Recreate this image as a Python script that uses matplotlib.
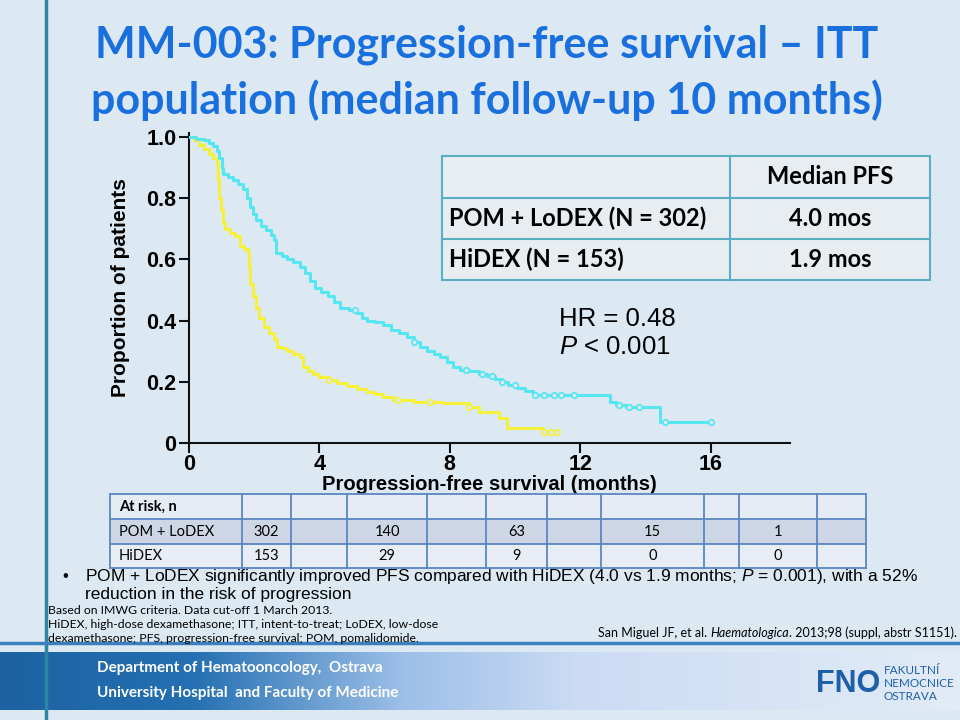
import numpy as np
import matplotlib
matplotlib.use('Agg')
import matplotlib.pyplot as plt
from matplotlib.colors import LinearSegmentedColormap
from matplotlib.patches import Rectangle

# Kaplan-Meier curves (step, post)
pom_t = [0, 0.2, 0.45, 0.6, 0.75, 0.85, 0.92, 1.0, 1.05, 1.2, 1.35, 1.5, 1.65, 1.77, 1.87, 1.95,
         2.05, 2.2, 2.35, 2.5, 2.6, 2.68, 2.85, 3.0, 3.2, 3.4, 3.55, 3.7, 3.85, 4.05, 4.25, 4.45,
         4.63, 4.9, 5.15, 5.3, 5.45, 5.7, 5.95, 6.2, 6.45, 6.7, 6.9, 7.1, 7.3, 7.5, 7.7, 7.9, 8.1,
         8.3, 8.6, 8.9, 9.15, 9.4, 9.6, 9.8, 10.05, 10.3, 10.55, 12.9, 13.1, 13.4, 14.45, 16.0]
pom_s = [1.0, 0.995, 0.99, 0.98, 0.97, 0.955, 0.93, 0.90, 0.88, 0.87, 0.86, 0.845, 0.83, 0.80,
         0.77, 0.75, 0.73, 0.71, 0.695, 0.68, 0.665, 0.62, 0.61, 0.60, 0.59, 0.575, 0.555, 0.53,
         0.505, 0.495, 0.48, 0.46, 0.44, 0.435, 0.425, 0.41, 0.40, 0.395, 0.385, 0.37, 0.36,
         0.345, 0.33, 0.315, 0.30, 0.29, 0.28, 0.265, 0.25, 0.24, 0.235, 0.225, 0.22, 0.21, 0.20,
         0.19, 0.18, 0.17, 0.157, 0.135, 0.125, 0.118, 0.07, 0.07]
pom_cens = [5.1, 6.9, 8.5, 9.0, 9.3, 9.6, 10.0, 10.6, 10.9, 11.2, 11.4, 11.8, 13.2, 13.5, 13.8, 14.6, 16.0]

hidex_t = [0, 0.15, 0.3, 0.45, 0.6, 0.75, 0.85, 0.9, 0.93, 0.97, 1.05, 1.1, 1.25, 1.4, 1.55, 1.7,
           1.8, 1.84, 1.87, 1.95, 2.05, 2.15, 2.3, 2.45, 2.6, 2.7, 2.85, 3.0, 3.2, 3.4, 3.5, 3.65,
           3.8, 4.0, 4.3, 4.55, 4.85, 5.15, 5.45, 5.7, 5.95, 6.25, 6.9, 7.8, 8.6, 8.9, 9.5, 9.75,
           10.85, 11.3]
hidex_s = [1.0, 0.99, 0.975, 0.96, 0.945, 0.93, 0.915, 0.86, 0.80, 0.76, 0.72, 0.70, 0.685, 0.675,
           0.645, 0.635, 0.625, 0.58, 0.52, 0.48, 0.44, 0.41, 0.38, 0.36, 0.34, 0.315, 0.31, 0.30,
           0.29, 0.28, 0.25, 0.235, 0.225, 0.215, 0.205, 0.195, 0.185, 0.178, 0.168, 0.16, 0.15,
           0.14, 0.135, 0.13, 0.118, 0.10, 0.082, 0.048, 0.035, 0.035]
hidex_cens = [4.3, 6.4, 7.4, 8.6, 10.9, 11.1, 11.3]

x_ticks = [0, 4, 8, 12, 16]
y_ticks = [0, 0.2, 0.4, 0.6, 0.8, 1.0]
y_labels = ['0', '0.2', '0.4', '0.6', '0.8', '1.0']

groups = ['POM + LoDEX (N = 302)', 'HiDEX (N = 153)']
median_pfs = ['4.0 mos', '1.9 mos']

risk_groups = ['POM + LoDEX', 'HiDEX']
risk_pom = [302, 140, 63, 15, 1]
risk_hidex = [153, 29, 9, 0, 0]

ARIAL = 'Liberation Sans'
CALIBRI = 'Lato'
BG = '#dce9f3'
CYAN = '#55e6ef'
YELLOW = '#f5f03a'

plt.rcParams['mathtext.fontset'] = 'custom'
plt.rcParams['mathtext.rm'] = ARIAL
plt.rcParams['mathtext.it'] = ARIAL + ':italic'

fig = plt.figure(figsize=(9.6, 7.2), dpi=100)
fig.patch.set_facecolor(BG)

# background layer in pixel coordinates
bg = fig.add_axes([0, 0, 1, 1], zorder=0)
bg.set_xlim(0, 960)
bg.set_ylim(720, 0)
bg.axis('off')
band_cmap = LinearSegmentedColormap.from_list(
    'band', [(0, '#1c62a2'), (0.2, '#2470b2'), (0.42, '#9dbfe8'), (0.6, '#cbdbf4'), (1, '#e2ecf7')])
bg.imshow(np.linspace(0, 1, 256)[None, :], extent=[0, 960, 710, 652], aspect='auto', cmap=band_cmap)
bg.plot([46, 46], [0, 720], color='#2a86a4', lw=2.5)
bg.plot([0, 960], [643, 643], color='#3b7fbf', lw=2.5)

# survival plot
ax = fig.add_axes([189 / 960, (720 - 443) / 720, 601 / 960, 310 / 720], zorder=1)
ax.patch.set_alpha(0)
ax.set_xlim(0, 601 / 32.6)
ax.set_ylim(0, 310 / 306)
for side in ['top', 'right']:
    ax.spines[side].set_visible(False)
for side in ['left', 'bottom']:
    ax.spines[side].set_linewidth(1.5)
    ax.spines[side].set_color('#111111')

ax.step(hidex_t, hidex_s, where='post', color=YELLOW, lw=2.2, zorder=3)
ax.step(pom_t, pom_s, where='post', color=CYAN, lw=2.2, zorder=4)


def surv_at(ts, ss, c):
    return ss[np.searchsorted(ts, c, side='right') - 1]


ax.plot(hidex_cens, [surv_at(hidex_t, hidex_s, c) for c in hidex_cens], 'o', ms=4,
        mfc=BG, mec=YELLOW, mew=1.2, zorder=5)
ax.plot(pom_cens, [surv_at(pom_t, pom_s, c) for c in pom_cens], 'o', ms=4,
        mfc=BG, mec=CYAN, mew=1.2, zorder=5)

ax.set_xticks(x_ticks)
ax.set_yticks(y_ticks)
ax.set_yticklabels(y_labels)
ax.tick_params(length=7, width=1.5, pad=2, labelsize=15.5, color='#111111')
ax.tick_params(axis='x', pad=1)
for lab in ax.get_xticklabels() + ax.get_yticklabels():
    lab.set_fontfamily(ARIAL)
    lab.set_fontweight('bold')
ax.set_xlabel('Progression-free survival (months)', fontfamily=ARIAL, fontweight='bold',
              fontsize=14.5, labelpad=0)
ax.set_ylabel('Proportion of patients', fontfamily=ARIAL, fontweight='bold', fontsize=15,
              labelpad=12)

# foreground layer
fg = fig.add_axes([0, 0, 1, 1], zorder=2)
fg.set_xlim(0, 960)
fg.set_ylim(720, 0)
fg.axis('off')
fg.patch.set_alpha(0)

fg.text(487, 45, 'MM-003: Progression-free survival \u2013 ITT', ha='center', va='center',
        fontfamily=CALIBRI, fontweight='bold', fontsize=31, color='#1a6fdf')
fg.text(487, 100, 'population (median follow-up 10 months)', ha='center', va='center',
        fontfamily=CALIBRI, fontweight='bold', fontsize=31, color='#1a6fdf')

# median PFS table
rows_y = [156, 198, 239, 280]
fg.add_patch(Rectangle((442, 156), 488, 124, facecolor='#e8edf1', edgecolor='#5aaec2', lw=1.5))
for yy in rows_y[1:3]:
    fg.plot([442, 930], [yy, yy], color='#5aaec2', lw=1.5)
fg.plot([730, 730], [156, 280], color='#5aaec2', lw=1.5)
fg.text(830, 177, 'Median PFS', ha='center', va='center', fontfamily=CALIBRI,
        fontweight='bold', fontsize=17)
for i, (g, m) in enumerate(zip(groups, median_pfs)):
    yc = (rows_y[i + 1] + rows_y[i + 2]) / 2
    fg.text(449, yc, g, ha='left', va='center', fontfamily=CALIBRI, fontweight='bold', fontsize=17)
    fg.text(830, yc, m, ha='center', va='center', fontfamily=CALIBRI, fontweight='bold', fontsize=17)

fg.text(559, 319, 'HR = 0.48', ha='left', va='center', fontfamily=ARIAL, fontsize=18.5)
fg.text(559, 347, r'$P$ < 0.001', ha='left', va='center', fontfamily=ARIAL, fontsize=18.5)

# at-risk table
col_x = [110, 242, 291, 347, 427, 486, 547, 601, 704, 739, 817, 866]
value_cols = [1, 3, 5, 7, 9]
tab_y = [494, 519, 544, 568]
row_fill = ['#e5ecf4', '#cdd6e4', '#e7edf5']
for r in range(3):
    fg.add_patch(Rectangle((col_x[0], tab_y[r]), col_x[-1] - col_x[0], tab_y[r + 1] - tab_y[r],
                           facecolor=row_fill[r], edgecolor='none'))
for yy in tab_y:
    fg.plot([col_x[0], col_x[-1]], [yy, yy], color='#5b86c2', lw=1.3)
for xx in col_x:
    fg.plot([xx, xx], [tab_y[0], tab_y[-1]], color='#5b86c2', lw=1.3)
tkw = dict(va='center', fontfamily=CALIBRI, fontsize=10.5)
fg.text(119, (tab_y[0] + tab_y[1]) / 2, 'At risk, n', ha='left', fontweight='bold', **tkw)
for r, (name, vals) in enumerate(zip(risk_groups, [risk_pom, risk_hidex])):
    yc = (tab_y[r + 1] + tab_y[r + 2]) / 2
    fg.text(119, yc, name, ha='left', **tkw)
    for c, v in zip(value_cols, vals):
        fg.text((col_x[c] + col_x[c + 1]) / 2, yc, str(v), ha='center', **tkw)

# bullet and footnotes
fg.text(62, 576.5, '\u2022', ha='left', va='center', fontfamily=ARIAL, fontsize=12)
fg.text(85, 576.5, r'POM + LoDEX significantly improved PFS compared with HiDEX (4.0 vs 1.9 months; $P$ = 0.001), with a 52%',
        ha='left', va='center', fontfamily=ARIAL, fontsize=12.5)
fg.text(85, 594, 'reduction in the risk of progression', ha='left', va='center',
        fontfamily=ARIAL, fontsize=12.5)
foot = ['Based on IMWG criteria. Data cut-off 1 March 2013.',
        'HiDEX, high-dose dexamethasone; ITT, intent-to-treat; LoDEX, low-dose',
        'dexamethasone; PFS, progression-free survival; POM, pomalidomide.']
for k, line in enumerate(foot):
    fg.text(48, 611 + 13.5 * k, line, ha='left', va='center', fontfamily=CALIBRI, fontsize=8.8)

renderer = fig.canvas.get_renderer()
runs = [('San Miguel JF, et al. ', 'normal'), ('Haematologica', 'italic'),
        ('. 2013;98 (suppl, abstr S1151).', 'normal')]
widths = []
for txt, st in runs:
    t = fg.text(0, 0, txt, fontfamily=CALIBRI, fontsize=9, fontstyle=st)
    widths.append(t.get_window_extent(renderer).width)
    t.remove()
x0 = 957 - sum(widths)
for (txt, st), w in zip(runs, widths):
    fg.text(x0, 633, txt, ha='left', va='center', fontfamily=CALIBRI, fontsize=9, fontstyle=st)
    x0 += w

# footer band text and logo
fg.text(97, 668, 'Department of Hematooncology,  Ostrava', ha='left', va='center',
        fontfamily=CALIBRI, fontweight='bold', fontsize=11, color='white')
fg.text(97, 693, 'University Hospital  and Faculty of Medicine', ha='left', va='center',
        fontfamily=CALIBRI, fontweight='bold', fontsize=11, color='white')
fg.text(848, 684, 'FNO', ha='center', va='center', fontfamily=ARIAL, fontweight='bold',
        fontsize=22, color='#1f5fa8')
for k, line in enumerate(['FAKULTN\u00cd', 'NEMOCNICE', 'OSTRAVA']):
    fg.text(884, 671 + 12.5 * k, line, ha='left', va='center', fontfamily=CALIBRI,
            fontsize=8.5, color='#1f5fa8')

fig.savefig('out.png', dpi=100, facecolor=fig.get_facecolor())
